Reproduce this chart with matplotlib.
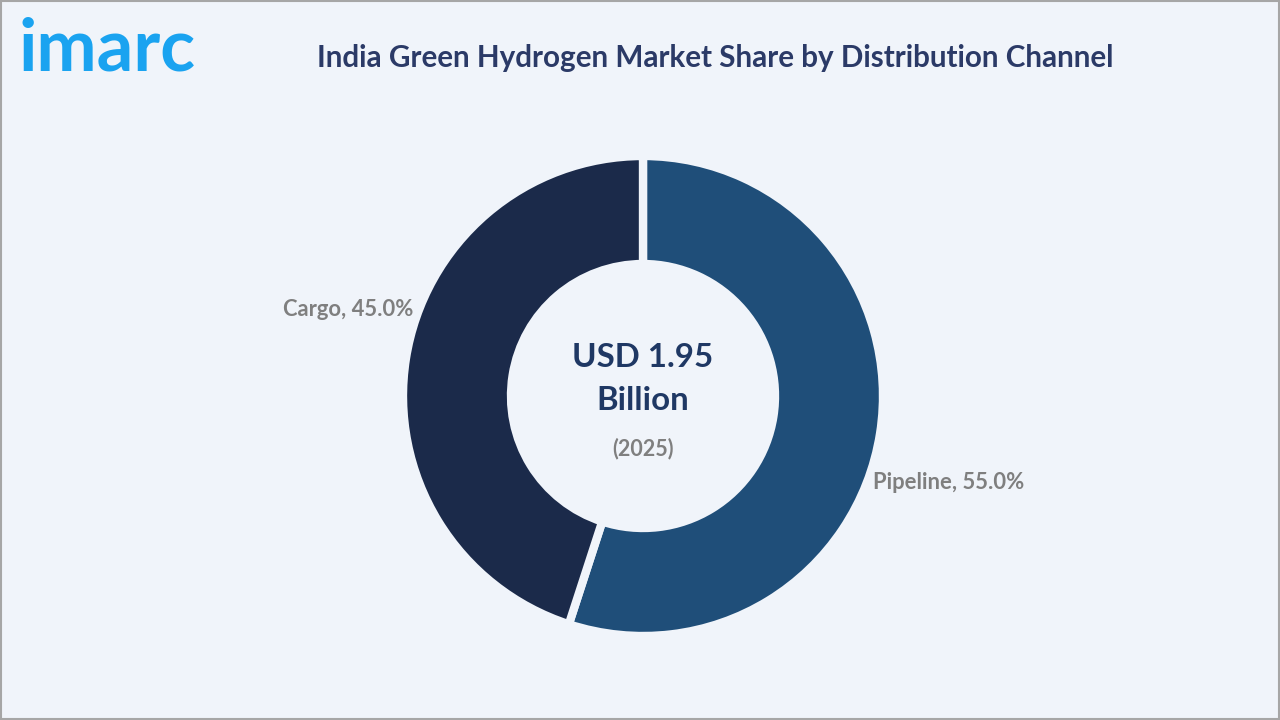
import matplotlib.pyplot as plt
from matplotlib.patches import Rectangle

# --- data ---
channels = ["Pipeline", "Cargo"]
shares = [55.0, 45.0]
colors = ["#1F4E79", "#1B2A4A"]
market_value = "USD 1.95\nBillion"
year = "(2025)"
title = "India Green Hydrogen Market Share by Distribution Channel"

BG = "#F0F4FA"
FONT = ["Lato", "DejaVu Sans"]

fig = plt.figure(figsize=(12.8, 7.2), dpi=100, facecolor=BG)

# border around the whole picture
fig.patches.append(Rectangle((0.001, 0.001), 0.998, 0.997, transform=fig.transFigure,
                             fill=False, ec="#A6A6A6", lw=1.5))

# donut axes: 600x600 px centred at (643, 396)
cx, cy, half = 643, 396, 300
ax = fig.add_axes([(cx - half) / 1280, (720 - cy - half) / 720, 2 * half / 1280, 2 * half / 720])
ax.set_facecolor(BG)
lim = half / 236
ax.set_xlim(-lim, lim)
ax.set_ylim(-lim, lim)
ax.set_aspect("equal")
ax.axis("off")

ax.pie(shares, colors=colors, startangle=90, counterclock=False, radius=1.0,
       wedgeprops=dict(width=0.45, edgecolor=BG, linewidth=6))

# data labels (Excel "best fit" positions)
label_xy = {"Pipeline": (0.96, -0.36, "left"), "Cargo": (-0.955, 0.36, "right")}
for name, val in zip(channels, shares):
    x, y, ha = label_xy[name]
    ax.text(x, y, f"{name}, {val:.1f}%", ha=ha, va="center", fontsize=15.8,
            fontweight="bold", color="#7F7F7F", family=FONT)

# centre text
ax.text(0, 0.07, market_value, ha="center", va="center", fontsize=23.8,
        fontweight="bold", color="#1F3864", family=FONT, linespacing=1.6)
ax.text(0, -0.22, year, ha="center", va="center", fontsize=15.5,
        fontweight="bold", color="#7F7F7F", family=FONT)

# title and logo
fig.text(715 / 1280, 1 - 58 / 720, title, ha="center", va="center", fontsize=21.3,
         fontweight="bold", color="#2B3A67", family=FONT)
fig.text(18 / 1280, 1 - 50 / 720, "imarc", ha="left", va="center", fontsize=52,
         fontweight="bold", color="#1AA3F0", family=FONT)

fig.savefig("out.png", dpi=100, facecolor=BG)
